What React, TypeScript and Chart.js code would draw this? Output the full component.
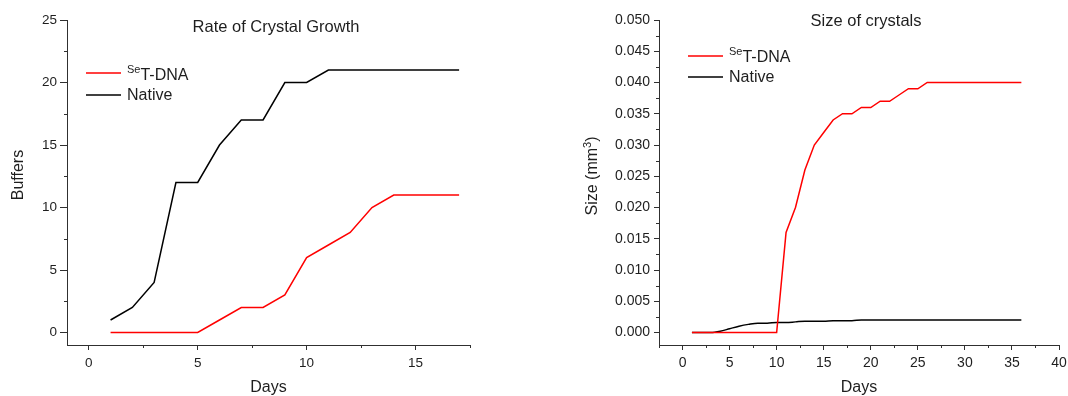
import React, { useEffect, useRef } from 'react';
import { Chart, registerables } from 'chart.js';

Chart.register(...registerables);

const FONT = "'Liberation Sans', Arial, Helvetica, sans-serif";
const AXIS = '#303030';
const TEXT = '#1e1e1e';
const RED = '#ff0000';
const BLACK = '#000000';

// ---- Rate of Crystal Growth ----
const growthDays = [1, 2, 3, 4, 5, 6, 7, 8, 9, 10, 11, 12, 13, 14, 15, 16, 17];
const growthSeT = [0, 0, 0, 0, 0, 1, 2, 2, 3, 6, 7, 8, 10, 11, 11, 11, 11];
const growthNative = [1, 2, 4, 12, 12, 15, 17, 17, 20, 20, 21, 21, 21, 21, 21, 21, 21];
const growthXTicks = [0, 5, 10, 15];
const growthXMinor = [2.5, 7.5, 12.5, 17.5];
const growthYTicks = [0, 5, 10, 15, 20, 25];
const growthYMinor = [2.5, 7.5, 12.5, 17.5, 22.5];

// ---- Size of crystals ----
const sizeDays = [1, 2, 3, 4, 5, 6, 7, 8, 9, 10, 11, 12, 13, 14, 15, 16, 17, 18, 19, 20, 21, 22, 23, 24, 25, 26, 27, 28, 29, 30, 31, 32, 33, 34, 35, 36];
const sizeSeT = [0, 0, 0, 0, 0, 0, 0, 0, 0, 0, 0.016, 0.02, 0.026, 0.03, 0.032, 0.034, 0.035, 0.035, 0.036, 0.036, 0.037, 0.037, 0.038, 0.039, 0.039, 0.04, 0.04, 0.04, 0.04, 0.04, 0.04, 0.04, 0.04, 0.04, 0.04, 0.04];
const sizeNative = [0, 0, 0, 0.0002, 0.0006, 0.001, 0.0013, 0.0015, 0.0015, 0.0016, 0.0016, 0.0017, 0.0018, 0.0018, 0.0018, 0.0019, 0.0019, 0.0019, 0.002, 0.002, 0.002, 0.002, 0.002, 0.002, 0.002, 0.002, 0.002, 0.002, 0.002, 0.002, 0.002, 0.002, 0.002, 0.002, 0.002, 0.002];
const sizeXTicks = [0, 5, 10, 15, 20, 25, 30, 35, 40];
const sizeXMinor = [-2.5, 2.5, 7.5, 12.5, 17.5, 22.5, 27.5, 32.5, 37.5];
const sizeYTicks = [0, 0.005, 0.01, 0.015, 0.02, 0.025, 0.03, 0.035, 0.04, 0.045, 0.05];
const sizeYMinor = [0.0025, 0.0075, 0.0125, 0.0175, 0.0225, 0.0275, 0.0325, 0.0375, 0.0425, 0.0475];

const legendSeT = [{ text: 'Se', sup: true }, { text: 'T-DNA', sup: false }];
const legendNative = [{ text: 'Native', sup: false }];

type Part = { text: string; sup: boolean };

function drawParts(ctx: CanvasRenderingContext2D, parts: Part[], x: number, y: number, size: number, supSize: number, supRise: number, align: 'left' | 'center') {
  let total = 0;
  const widths = parts.map((p) => {
    ctx.font = `${p.sup ? supSize : size}px ${FONT}`;
    const w = ctx.measureText(p.text).width;
    total += w;
    return w;
  });
  let cx = align === 'center' ? x - total / 2 : x;
  ctx.textAlign = 'left';
  ctx.textBaseline = 'alphabetic';
  parts.forEach((p, i) => {
    ctx.font = `${p.sup ? supSize : size}px ${FONT}`;
    ctx.fillText(p.text, cx, p.sup ? y - supRise : y);
    cx += widths[i];
  });
}

const annotPlugin = {
  id: 'annot',
  afterDraw(chart: any, _args: any, opts: any) {
    const ctx: CanvasRenderingContext2D = chart.ctx;
    const a = chart.chartArea;
    const xs = chart.scales.x;
    const ys = chart.scales.y;
    ctx.save();
    // minor ticks
    ctx.strokeStyle = AXIS;
    ctx.lineWidth = 1;
    ctx.beginPath();
    for (const v of opts.xMinor) {
      const px = Math.round(xs.getPixelForValue(v)) + 0.5;
      ctx.moveTo(px, a.bottom);
      ctx.lineTo(px, a.bottom + 3);
    }
    for (const v of opts.yMinor) {
      const py = Math.round(ys.getPixelForValue(v)) + 0.5;
      ctx.moveTo(a.left, py);
      ctx.lineTo(a.left - 3, py);
    }
    ctx.stroke();

    ctx.fillStyle = TEXT;
    // chart title
    ctx.font = `16.5px ${FONT}`;
    ctx.textAlign = 'center';
    ctx.textBaseline = 'alphabetic';
    ctx.fillText(opts.title, (a.left + a.right) / 2 + opts.titleDx, opts.titleBaseline);
    // x axis title
    ctx.font = `16px ${FONT}`;
    ctx.fillText(opts.xTitle, (a.left + a.right) / 2, opts.xTitleBaseline);
    // y axis title (rotated)
    ctx.save();
    ctx.translate(opts.yTitleBaselineX, opts.yTitleCenterY);
    ctx.rotate(-Math.PI / 2);
    drawParts(ctx, opts.yTitle, 0, 0, 16, 11, 6.5, 'center');
    ctx.restore();
    // legend
    for (const item of opts.legend) {
      ctx.strokeStyle = item.color;
      ctx.lineWidth = 1.5;
      ctx.beginPath();
      ctx.moveTo(opts.legendX, item.lineY);
      ctx.lineTo(opts.legendX + 35, item.lineY);
      ctx.stroke();
      ctx.fillStyle = TEXT;
      drawParts(ctx, item.parts, opts.legendX + 41, item.baseline, 16, 11, 7.3, 'left');
    }
    ctx.restore();
  },
};

function makeConfig(p: any) {
  const tickFont = { family: FONT, size: p.tickSize };
  return {
    type: 'line',
    data: {
      datasets: [
        {
          label: 'SeT-DNA',
          data: p.days.map((d: number, i: number) => ({ x: d, y: p.seT[i] })),
          borderColor: RED,
          borderWidth: 1.5,
          pointRadius: 0,
          tension: 0,
          fill: false,
        },
        {
          label: 'Native',
          data: p.days.map((d: number, i: number) => ({ x: d, y: p.native[i] })),
          borderColor: BLACK,
          borderWidth: 1.5,
          pointRadius: 0,
          tension: 0,
          cubicInterpolationMode: p.smoothNative ? 'monotone' : 'default',
          fill: false,
        },
      ],
    },
    options: {
      animation: false,
      responsive: false,
      devicePixelRatio: 1,
      layout: { padding: { top: 20, left: 0, right: p.padRight, bottom: 0 } },
      plugins: {
        legend: { display: false },
        title: { display: false },
        tooltip: { enabled: false },
        annot: p.annot,
      },
      scales: {
        x: {
          type: 'linear',
          min: p.xMin,
          max: p.xMax,
          afterBuildTicks: (scale: any) => {
            scale.ticks = p.xTicks.map((v: number) => ({ value: v }));
          },
          afterFit: (scale: any) => {
            scale.height = 51;
            scale.paddingLeft = 0;
            scale.paddingRight = 0;
          },
          ticks: { font: tickFont, color: TEXT, padding: 5, maxRotation: 0, autoSkip: false, callback: (v: number) => String(v) },
          grid: { display: true, drawOnChartArea: false, drawTicks: true, tickLength: 5, color: AXIS, tickColor: AXIS },
          border: { display: true, color: AXIS, width: 1 },
        },
        y: {
          type: 'linear',
          min: p.yMin,
          max: p.yMax,
          afterBuildTicks: (scale: any) => {
            scale.ticks = p.yTicks.map((v: number) => ({ value: v }));
          },
          afterFit: (scale: any) => {
            scale.width = p.yWidth;
          },
          ticks: { font: tickFont, color: TEXT, padding: p.yPad, autoSkip: false, callback: (v: number) => v.toFixed(p.yDecimals) },
          grid: { display: true, drawOnChartArea: false, drawTicks: true, tickLength: p.yTickLen, color: AXIS, tickColor: AXIS },
          border: { display: true, color: AXIS, width: 1 },
        },
      },
    },
    plugins: [annotPlugin],
  };
}

function ChartCanvas({ config, left }: { config: any; left: number }) {
  const ref = useRef<HTMLCanvasElement | null>(null);
  useEffect(() => {
    if (!ref.current) return;
    const chart = new Chart(ref.current, config);
    return () => chart.destroy();
  }, [config]);
  return <canvas ref={ref} width={534} height={396} style={{ position: 'absolute', left, top: 0, width: 534, height: 396 }} />;
}

const growthConfig = makeConfig({
  days: growthDays,
  seT: growthSeT,
  native: growthNative,
  smoothNative: false,
  xMin: -1,
  xMax: 17.5,
  yMin: -1,
  yMax: 25,
  xTicks: growthXTicks,
  yTicks: growthYTicks,
  yDecimals: 0,
  tickSize: 13.5,
  yWidth: 67,
  yPad: 3,
  yTickLen: 7,
  padRight: 64,
  annot: {
    xMinor: growthXMinor,
    yMinor: growthYMinor,
    title: 'Rate of Crystal Growth',
    titleDx: 7.5,
    titleBaseline: 31.5,
    xTitle: 'Days',
    xTitleBaseline: 391.5,
    yTitle: [{ text: 'Buffers', sup: false }],
    yTitleBaselineX: 23,
    yTitleCenterY: 175,
    legendX: 86,
    legend: [
      { color: RED, parts: legendSeT, lineY: 73, baseline: 80 },
      { color: BLACK, parts: legendNative, lineY: 95, baseline: 100 },
    ],
  },
});

const sizeConfig = makeConfig({
  days: sizeDays,
  seT: sizeSeT,
  native: sizeNative,
  smoothNative: true,
  xMin: -2.5,
  xMax: 40,
  yMin: -0.002,
  yMax: 0.05,
  xTicks: sizeXTicks,
  yTicks: sizeYTicks,
  yDecimals: 3,
  tickSize: 14,
  yWidth: 125,
  yPad: 4,
  yTickLen: 5,
  padRight: 9,
  annot: {
    xMinor: sizeXMinor,
    yMinor: sizeYMinor,
    title: 'Size of crystals',
    titleDx: 7,
    titleBaseline: 26,
    xTitle: 'Days',
    xTitleBaseline: 391.5,
    yTitle: [
      { text: 'Size (mm', sup: false },
      { text: '3', sup: true },
      { text: ')', sup: false },
    ],
    yTitleBaselineX: 63,
    yTitleCenterY: 176,
    legendX: 154,
    legend: [
      { color: RED, parts: legendSeT, lineY: 56, baseline: 62.3 },
      { color: BLACK, parts: legendNative, lineY: 77, baseline: 82 },
    ],
  },
});

export default function App() {
  return (
    <div style={{ position: 'absolute', left: 0, top: 0, width: 1068, height: 396, background: '#ffffff' }}>
      <ChartCanvas config={growthConfig} left={0} />
      <ChartCanvas config={sizeConfig} left={534} />
    </div>
  );
}
